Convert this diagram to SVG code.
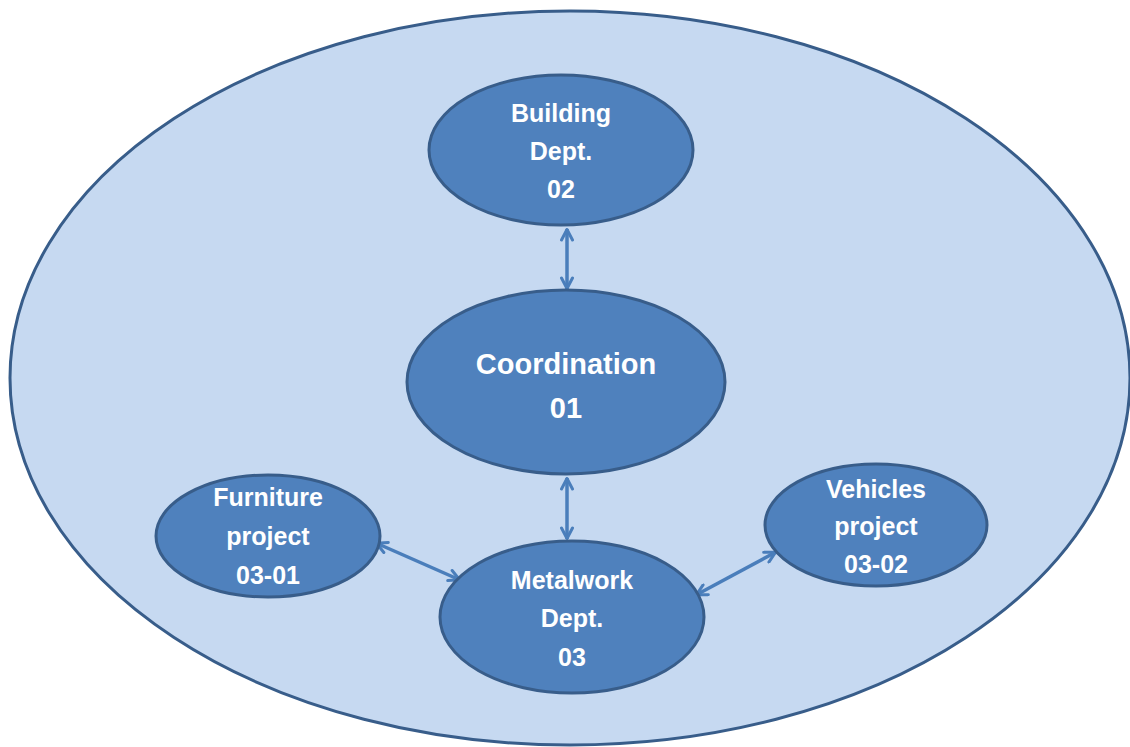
<svg xmlns="http://www.w3.org/2000/svg" width="1130" height="747" viewBox="0 0 1130 747">
<defs>
<style>
.bg{fill:#C6D9F1;stroke:#385D8A;stroke-width:3}
.node{fill:#4F81BD;stroke:#385D8A;stroke-width:3}
.lbl{font-family:"Liberation Sans",Arial,sans-serif;font-weight:bold;fill:#FFFFFF;text-anchor:middle;font-size:25px}
.big{font-size:29px}
.conn{stroke:#4A7EBB;stroke-width:3.5;fill:none;marker-start:url(#ah);marker-end:url(#ah)}
</style>
<marker id="ah" viewBox="0 0 14 14" refX="13" refY="7" markerWidth="14" markerHeight="14" markerUnits="userSpaceOnUse" orient="auto-start-reverse">
<path d="M2,1.5 L12.5,7 L2,12.5" fill="none" stroke="#4A7EBB" stroke-width="3" stroke-linecap="round" stroke-linejoin="round"/>
</marker>
</defs>
<rect width="1130" height="747" fill="#FFFFFF"/>
<ellipse class="bg" cx="570" cy="378" rx="560" ry="367"/>
<g id="connectors">
<line class="conn" x1="567" y1="229" x2="567" y2="289"/>
<line class="conn" x1="567" y1="478" x2="567" y2="539"/>
<line class="conn" x1="376" y1="543" x2="460" y2="580"/>
<line class="conn" x1="696" y1="595" x2="776" y2="552"/>
</g>
<g id="building">
<ellipse class="node" cx="561" cy="150" rx="132" ry="75"/>
<text class="lbl" x="561" y="122">Building</text>
<text class="lbl" x="561" y="160">Dept.</text>
<text class="lbl" x="561" y="198">02</text>
</g>
<g id="coordination">
<ellipse class="node" cx="566" cy="382" rx="159" ry="92"/>
<text class="lbl big" x="566" y="374">Coordination</text>
<text class="lbl big" x="566" y="418">01</text>
</g>
<g id="metalwork">
<ellipse class="node" cx="572" cy="617" rx="132" ry="76"/>
<text class="lbl" x="572" y="589">Metalwork</text>
<text class="lbl" x="572" y="627">Dept.</text>
<text class="lbl" x="572" y="666">03</text>
</g>
<g id="furniture">
<ellipse class="node" cx="268" cy="536" rx="112" ry="61"/>
<text class="lbl" x="268" y="506">Furniture</text>
<text class="lbl" x="268" y="545">project</text>
<text class="lbl" x="268" y="584">03-01</text>
</g>
<g id="vehicles">
<ellipse class="node" cx="876" cy="525" rx="111" ry="61"/>
<text class="lbl" x="876" y="498">Vehicles</text>
<text class="lbl" x="876" y="535">project</text>
<text class="lbl" x="876" y="573">03-02</text>
</g>
</svg>
